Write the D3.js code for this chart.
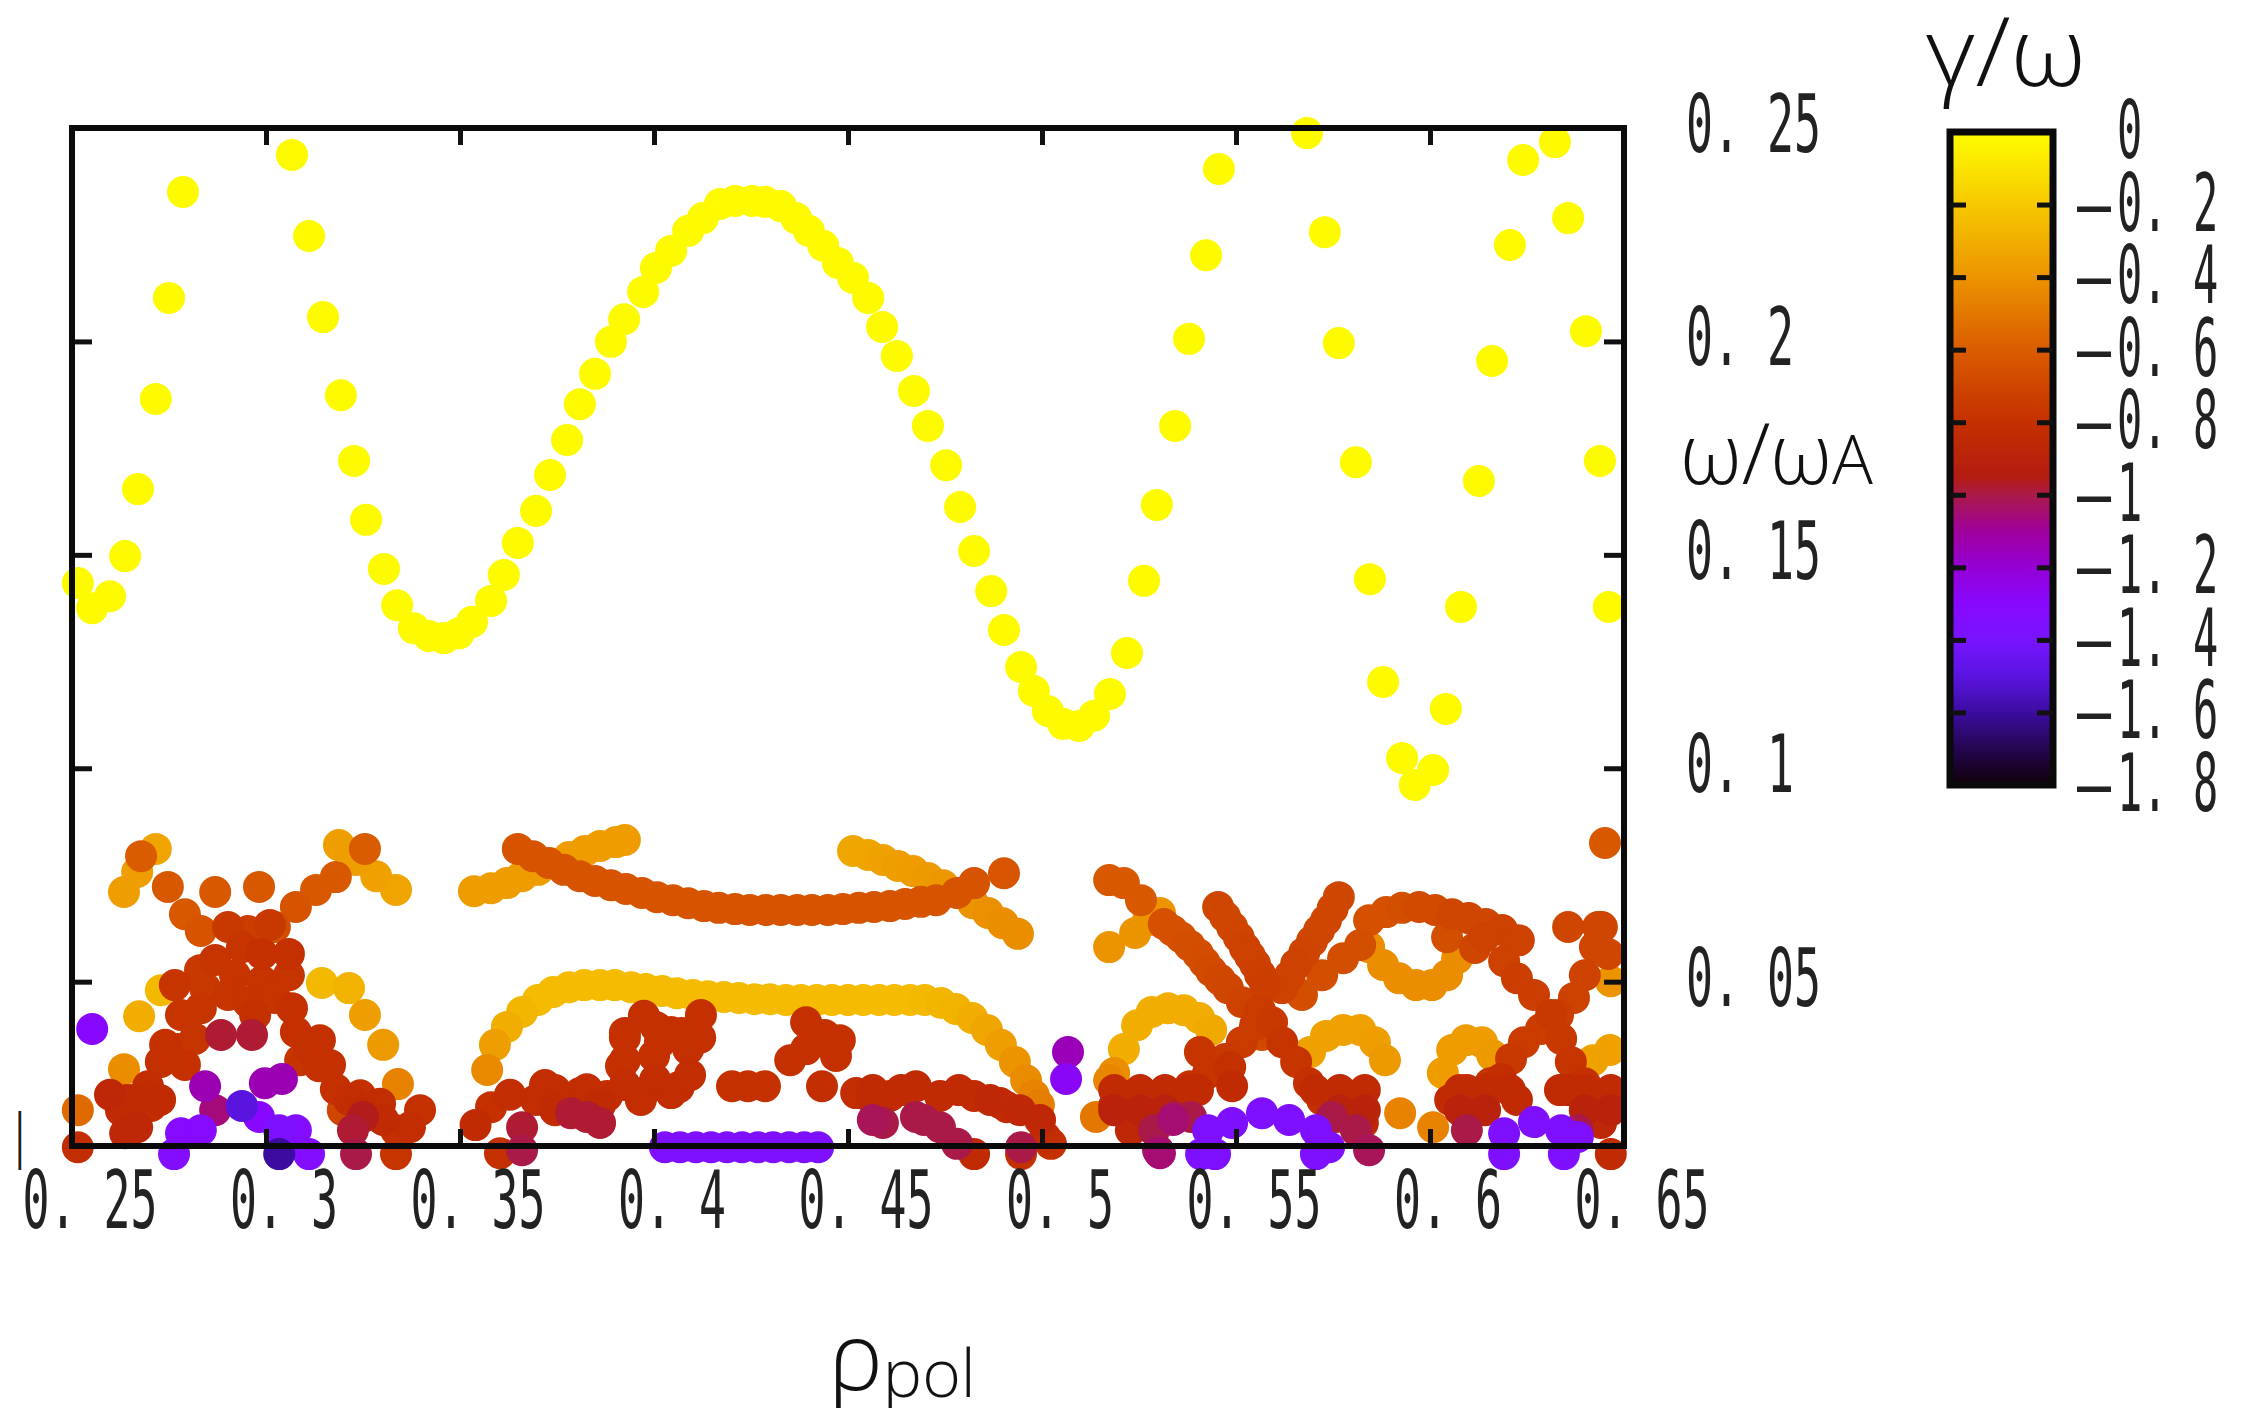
<!DOCTYPE html>
<html>
<head>
<meta charset="utf-8">
<script src="https://cdn.jsdelivr.net/npm/d3@7"></script>
<style>
  body { margin: 0; background: #fff; }
  svg { display: block; }
  text { white-space: pre; }
</style>
</head>
<body>
<div id="chart-area"></div>
<script>
// axis ticks and labels
var xTicks = [0.25, 0.3, 0.35, 0.4, 0.45, 0.5, 0.55, 0.6, 0.65];
var xTickLabels = ["0. 25", "0. 3", "0. 35", "0. 4", "0. 45", "0. 5", "0. 55", "0. 6", "0. 65"];
var yTicks = [0.05, 0.1, 0.15, 0.2, 0.25];
var yTickLabels = ["0. 05", "0. 1", "0. 15", "0. 2", "0. 25"];
var cbTicks = [0, -0.2, -0.4, -0.6, -0.8, -1, -1.2, -1.4, -1.6, -1.8];
var cbTickLabels = ["0", "0. 2", "0. 4", "0. 6", "0. 8", "1", "1. 2", "1. 4", "1. 6", "1. 8"];

// colour bar (gamma/omega -> colour)
var cbStops = [0, -0.2, -0.4, -0.6, -0.8, -0.95, -1.0, -1.1, -1.2, -1.3, -1.4, -1.5, -1.6, -1.7, -1.8];
var cbColors = ["#ffff00", "#f6c800", "#ec9400", "#da5c00", "#c43000", "#b41c10", "#aa1a48", "#a0009c",
                "#9400d4", "#8808ff", "#7814ff", "#5a14e0", "#3c0ca0", "#240650", "#100008"];

// yellow (weakly damped) branches [rho, omega]
var yellowGamma = -0.02;
var yellowA = [[0.2515,0.1434],[0.2552,0.1375],[0.2598,0.1403],[0.2637,0.1497],[0.2670,0.1654],
  [0.2716,0.1865],[0.2750,0.2102],[0.2786,0.2350]];
var yellowB = [[0.3067,0.2437],[0.3111,0.2247],[0.3147,0.2057],[0.3193,0.1874],[0.3227,0.1720],
  [0.3258,0.1582],[0.3304,0.1467],[0.3338,0.1382],[0.3381,0.1328],[0.3420,0.1310],[0.3459,0.1305],
  [0.3497,0.1316],[0.3531,0.1343],[0.3580,0.1392],[0.3613,0.1453],[0.3649,0.1528],[0.3696,0.1603],
  [0.3732,0.1687],[0.3776,0.1769],[0.3809,0.1853],[0.3848,0.1924],[0.3889,0.1999],[0.3923,0.2052],
  [0.3972,0.2116],[0.4005,0.2172],[0.4044,0.2212],[0.4088,0.2259],[0.4126,0.2289],[0.4170,0.2322],
  [0.4209,0.2329],[0.4253,0.2329],[0.4286,0.2327],[0.4327,0.2317],[0.4366,0.2289],[0.4399,0.2259],
  [0.4436,0.2224],[0.4474,0.2184],[0.4513,0.2149],[0.4552,0.2102],[0.4588,0.2034],[0.4626,0.1966],
  [0.4670,0.1884],[0.4706,0.1802],[0.4753,0.1710],[0.4789,0.1612],[0.4825,0.1509],[0.4869,0.1415],
  [0.4902,0.1324],[0.4946,0.1237],[0.4979,0.1181],[0.5015,0.1134],[0.5054,0.1104],[0.5095,0.1099],
  [0.5134,0.1123],[0.5175,0.1174],[0.5219,0.1270],[0.5263,0.1439],[0.5296,0.1617],[0.5343,0.1802],
  [0.5379,0.2006],[0.5423,0.2202],[0.5456,0.2404]];
var yellowC = [[0.5683,0.2488],[0.5729,0.2256],[0.5765,0.1996],[0.5809,0.1717],[0.5845,0.1443],
  [0.5879,0.1202],[0.5928,0.1024],[0.5961,0.0961],[0.6008,0.0996]];
var yellowD = [[0.6041,0.1139],[0.6080,0.1378],[0.6126,0.1673],[0.6160,0.1954],[0.6206,0.2226],
  [0.6240,0.2425]];
var yellowE = [[0.6322,0.2467],[0.6356,0.2289],[0.6402,0.2024],[0.6438,0.1720],[0.6461,0.1378]];

// low frequency, damped modes [rho, omega, gamma/omega]
var lowLeft = [
  [0.2634,0.0710,-0.36],[0.2668,0.0757,-0.36],[0.2716,0.0811,-0.34],
  [0.2678,0.0794,-0.6],[0.2747,0.0722,-0.62],[0.2791,0.0658,-0.62],[0.2832,0.0619,-0.64],
  [0.2869,0.0710,-0.62],[0.2982,0.0722,-0.62],
  [0.3023,0.0628,-0.66],[0.3077,0.0675,-0.64],[0.3129,0.0715,-0.62],[0.3180,0.0745,-0.62],[0.3255,0.0811,-0.6],
  [0.3188,0.0820,-0.36],[0.3232,0.0785,-0.36],[0.3284,0.0747,-0.35],[0.3335,0.0715,-0.34],
  [0.2902,0.0628,-0.76],[0.2954,0.0619,-0.74],[0.2938,0.0581,-0.78],[0.2990,0.0565,-0.8],[0.3059,0.0565,-0.8],
  [0.2920,0.0515,-0.78],[0.2990,0.0501,-0.78],[0.3059,0.0515,-0.78],[0.2843,0.0485,-0.76],[0.2902,0.0469,-0.78],
  [0.2954,0.0452,-0.78],[0.3023,0.0462,-0.78],[0.3067,0.0438,-0.8],[0.2781,0.0422,-0.78],[0.2832,0.0438,-0.78],
  [0.3077,0.0382,-0.8],[0.3111,0.0342,-0.8],[0.3137,0.0302,-0.8],[0.3180,0.0248,-0.8],[0.3214,0.0223,-0.82],
  [0.3250,0.0192,-0.84],[0.3302,0.0176,-0.84],[0.3371,0.0159,-0.82],[0.2817,0.0366,-0.78],[0.2773,0.0342,-0.78],
  [0.2729,0.0312,-0.8],[0.2696,0.0255,-0.82],[0.2642,0.0223,-0.84],[0.2626,0.0199,-0.84],[0.2704,0.0209,-0.82],
  [0.2668,0.0159,-0.86],[0.2637,0.0145,-0.86],[0.2660,0.0223,-0.84],[0.2515,0.0112,-0.82],[0.3335,0.0096,-0.78],
  [0.3335,0.0152,-0.8],[0.3198,0.0199,-0.7],[0.2781,0.0326,-0.65],[0.2869,0.0551,-0.78],[0.3010,0.0633,-0.76],
  [0.2972,0.0422,-0.8],[0.2765,0.0492,-0.78],[0.2830,0.0527,-0.76],[0.3139,0.0363,-0.8],[0.3165,0.0305,-0.8],
  [0.3088,0.0316,-0.78],[0.2740,0.0352,-0.8],[0.2791,0.0305,-0.8],[0.2598,0.0235,-0.86],[0.2727,0.0223,-0.84],
  [0.3294,0.0214,-0.82],[0.3397,0.0199,-0.8],[0.3243,0.0234,-0.8],
  [0.2884,0.0375,-0.98],[0.2964,0.0375,-0.98],[0.3232,0.0096,-1.0],[0.3224,0.0152,-0.98],[0.3250,0.0183,-0.96],
  [0.2843,0.0255,-1.14],[0.2997,0.0262,-1.14],[0.3041,0.0272,-1.14],[0.2869,0.0199,-1.06],
  [0.2938,0.0209,-1.5],[0.3034,0.0096,-1.6],
  [0.2552,0.0389,-1.3],[0.2781,0.0145,-1.32],[0.2982,0.0183,-1.3],[0.3077,0.0152,-1.34],[0.2763,0.0096,-1.34],
  [0.3111,0.0096,-1.34],[0.2832,0.0152,-1.32],[0.3034,0.0152,-1.36],
  [0.2729,0.0480,-0.26],[0.2673,0.0419,-0.3],[0.3144,0.0497,-0.26],[0.3214,0.0485,-0.28],
  [0.3255,0.0422,-0.36],[0.3302,0.0352,-0.38],
  [0.3340,0.0260,-0.46],[0.2634,0.0295,-0.42],[0.2515,0.0199,-0.55]
];
var risingArc = [[0.3536,0.0712,-0.37],[0.3580,0.0719,-0.37],[0.3621,0.0731,-0.37],[0.3660,0.0747,-0.37],
  [0.3701,0.0762,-0.37],[0.3740,0.0776,-0.37],[0.3781,0.0792,-0.37],[0.3822,0.0806,-0.37],[0.3861,0.0818,-0.37],
  [0.3902,0.0827,-0.37],[0.3925,0.0832,-0.37]];
var upperBand = [[0.3649,0.0811,-0.64],[0.3688,0.0794,-0.64],[0.3729,0.0778,-0.64],[0.3768,0.0762,-0.64],
  [0.3809,0.0747,-0.64],[0.3848,0.0736,-0.64],[0.3889,0.0726,-0.64],[0.3928,0.0717,-0.64],[0.3969,0.0708,-0.64],
  [0.4008,0.0698,-0.64],[0.4049,0.0691,-0.64],[0.4088,0.0684,-0.64],[0.4129,0.0677,-0.64],[0.4167,0.0673,-0.64],
  [0.4209,0.0670,-0.64],[0.4247,0.0668,-0.64],[0.4289,0.0668,-0.64],[0.4327,0.0668,-0.64],[0.4369,0.0668,-0.64],
  [0.4407,0.0668,-0.64],[0.4448,0.0668,-0.64],[0.4487,0.0670,-0.64],[0.4528,0.0673,-0.64],[0.4567,0.0675,-0.64],
  [0.4608,0.0677,-0.64],[0.4647,0.0682,-0.64],[0.4688,0.0687,-0.64],[0.4727,0.0691,-0.64],[0.4781,0.0708,-0.64],
  [0.4825,0.0731,-0.64],[0.4902,0.0754,-0.63]];
var fallingArc = [[0.4513,0.0806,-0.33],[0.4552,0.0797,-0.34],[0.4590,0.0785,-0.35],[0.4629,0.0771,-0.36],
  [0.4668,0.0759,-0.37],[0.4706,0.0743,-0.38],[0.4745,0.0726,-0.39],[0.4784,0.0708,-0.4],[0.4822,0.0684,-0.4],
  [0.4861,0.0661,-0.41],[0.4899,0.0637,-0.42],[0.4938,0.0612,-0.42]];
var lowerBand = [[0.3570,0.0293,-0.44],[0.3590,0.0352,-0.36],[0.3621,0.0394,-0.3],[0.3660,0.0429,-0.27],
  [0.3701,0.0457,-0.25],[0.3740,0.0476,-0.25],[0.3781,0.0487,-0.25],[0.3820,0.0492,-0.25],[0.3861,0.0492,-0.25],
  [0.3899,0.0492,-0.25],[0.3941,0.0487,-0.25],[0.3979,0.0483,-0.25],[0.4021,0.0478,-0.25],[0.4059,0.0473,-0.25],
  [0.4100,0.0469,-0.25],[0.4139,0.0466,-0.25],[0.4180,0.0464,-0.25],[0.4219,0.0462,-0.25],[0.4260,0.0459,-0.25],
  [0.4299,0.0459,-0.25],[0.4340,0.0457,-0.25],[0.4379,0.0457,-0.25],[0.4420,0.0457,-0.25],[0.4459,0.0457,-0.25],
  [0.4500,0.0457,-0.25],[0.4539,0.0457,-0.25],[0.4580,0.0457,-0.25],[0.4619,0.0457,-0.25],[0.4660,0.0457,-0.25],
  [0.4698,0.0457,-0.26],[0.4740,0.0450,-0.27],[0.4778,0.0436,-0.28],[0.4820,0.0415,-0.3],[0.4858,0.0387,-0.33],
  [0.4894,0.0352,-0.36],[0.4930,0.0312,-0.4],[0.4959,0.0269,-0.43],[0.4979,0.0234,-0.46],[0.4992,0.0211,-0.48]];
var lowMiddle = [
  [0.3925,0.0380,-0.8],[0.4005,0.0394,-0.8],[0.3925,0.0316,-0.8],[0.4064,0.0253,-0.82],[0.3972,0.0239,-0.82],
  [0.3809,0.0239,-0.82],[0.3696,0.0223,-0.82],[0.3580,0.0206,-0.8],[0.3603,0.0098,-0.8],[0.4121,0.0422,-0.8],
  [0.4044,0.0382,-0.8],[0.4088,0.0342,-0.8],[0.4000,0.0326,-0.8],[0.3915,0.0302,-0.8],[0.3879,0.0232,-0.82],
  [0.3966,0.0223,-0.82],[0.4044,0.0239,-0.82],[0.3827,0.0248,-0.82],[0.4242,0.0255,-0.8],[0.4286,0.0255,-0.8],
  [0.4201,0.0255,-0.8],[0.4392,0.0405,-0.8],[0.4392,0.0342,-0.8],[0.4469,0.0326,-0.8],[0.4433,0.0255,-0.82],
  [0.4521,0.0239,-0.82],[0.4608,0.0232,-0.84],[0.4675,0.0255,-0.84],[0.4737,0.0232,-0.84],[0.4825,0.0232,-0.84],
  [0.4892,0.0216,-0.84],[0.4825,0.0096,-0.84],[0.4946,0.0096,-0.8],[0.5023,0.0120,-0.8],[0.4072,0.0380,-0.8],
  [0.4564,0.0223,-0.84],[0.4910,0.0206,-0.84],[0.5008,0.0136,-0.82],[0.3745,0.0246,-0.82],
  [0.3974,0.0420,-0.8],[0.3925,0.0369,-0.8],[0.4119,0.0369,-0.8],[0.4015,0.0357,-0.8],
  [0.4351,0.0316,-0.8],[0.4479,0.0363,-0.8],[0.4440,0.0375,-0.8],
  [0.4564,0.0246,-0.84],[0.4637,0.0246,-0.84],[0.4786,0.0246,-0.84],[0.4866,0.0223,-0.86],[0.4943,0.0199,-0.86],
  [0.4995,0.0176,-0.86],[0.3925,0.0258,-0.82],[0.4003,0.0270,-0.82],[0.4093,0.0281,-0.82],
  [0.3629,0.0235,-0.82],[0.3745,0.0199,-0.84],[0.3861,0.0211,-0.84],[0.3540,0.0164,-0.84],[0.3719,0.0258,-0.82],
  [0.3786,0.0192,-0.98],[0.3660,0.0159,-0.98],[0.3660,0.0105,-1.0],[0.4675,0.0183,-1.0],[0.4737,0.0159,-1.0],
  [0.4781,0.0120,-1.0],[0.4946,0.0112,-1.0],[0.4590,0.0169,-1.0],[0.3827,0.0183,-0.98],[0.3861,0.0169,-0.98],
  [0.4564,0.0176,-1.02],[0.4696,0.0176,-1.0],
  [0.4028,0.0112,-1.36],[0.4067,0.0112,-1.36],[0.4108,0.0112,-1.36],[0.4147,0.0112,-1.36],[0.4188,0.0112,-1.36],
  [0.4227,0.0112,-1.36],[0.4268,0.0112,-1.36],[0.4307,0.0112,-1.36],[0.4348,0.0112,-1.36],[0.4387,0.0112,-1.36],
  [0.4423,0.0112,-1.36],
  [0.5067,0.0335,-1.15],[0.5062,0.0272,-1.28]
];
var lowRight = [
  [0.5173,0.0738,-0.62],[0.5211,0.0731,-0.62],[0.5255,0.0691,-0.62],
  [0.5304,0.0661,-0.4],[0.5240,0.0614,-0.4],[0.5173,0.0581,-0.4],[0.5273,0.0644,-0.4],
  [0.5211,0.0342,-0.3],[0.5245,0.0398,-0.3],[0.5283,0.0429,-0.3],[0.5325,0.0438,-0.3],[0.5366,0.0433,-0.3],
  [0.5405,0.0415,-0.3],[0.5436,0.0387,-0.32],
  [0.5173,0.0269,-0.45],[0.5139,0.0183,-0.5],[0.5186,0.0286,-0.42],
  [0.5314,0.0635,-0.65],[0.5358,0.0604,-0.65],[0.5402,0.0565,-0.66],[0.5436,0.0525,-0.68],[0.5479,0.0485,-0.7],
  [0.5515,0.0452,-0.72],[0.5336,0.0620,-0.65],[0.5380,0.0585,-0.66],[0.5419,0.0545,-0.67],[0.5458,0.0505,-0.69],
  [0.5454,0.0675,-0.7],[0.5490,0.0628,-0.7],[0.5523,0.0579,-0.72],[0.5549,0.0541,-0.72],[0.5575,0.0492,-0.74],
  [0.5472,0.0652,-0.7],[0.5507,0.0604,-0.71],[0.5536,0.0560,-0.72],[0.5562,0.0517,-0.73],
  [0.5562,0.0433,-0.75],[0.5593,0.0405,-0.76],
  [0.5619,0.0358,-0.78],[0.5655,0.0312,-0.78],[0.5688,0.0262,-0.8],[0.5722,0.0223,-0.8],[0.5758,0.0183,-0.82],
  [0.5428,0.0286,-0.78],[0.5472,0.0319,-0.76],[0.5515,0.0358,-0.75],[0.5549,0.0398,-0.75],[0.5619,0.0485,-0.72],
  [0.5655,0.0541,-0.72],[0.5696,0.0595,-0.7],[0.5732,0.0644,-0.7],[0.5765,0.0698,-0.7],
  [0.5638,0.0513,-0.72],[0.5676,0.0568,-0.71],[0.5714,0.0620,-0.7],[0.5749,0.0671,-0.7],
  [0.5567,0.0375,-0.68],[0.5670,0.0469,-0.66],[0.5722,0.0515,-0.66],[0.5776,0.0555,-0.66],[0.5820,0.0586,-0.66],
  [0.5407,0.0335,-0.78],[0.5485,0.0300,-0.8],[0.5381,0.0255,-0.8],[0.5330,0.0223,-0.82],
  [0.5843,0.0644,-0.65],[0.5887,0.0663,-0.65],[0.5928,0.0673,-0.66],[0.5972,0.0675,-0.68],[0.6013,0.0668,-0.68],
  [0.6057,0.0658,-0.7],[0.6100,0.0649,-0.7],[0.6144,0.0635,-0.7],[0.6186,0.0621,-0.72],[0.6229,0.0597,-0.72],
  [0.6044,0.0604,-0.66],[0.6116,0.0579,-0.7],
  [0.5843,0.0581,-0.42],[0.5879,0.0539,-0.42],[0.5920,0.0508,-0.42],[0.5964,0.0492,-0.42],[0.6005,0.0492,-0.42],
  [0.6044,0.0515,-0.42],[0.6070,0.0555,-0.42],[0.6466,0.0501,-0.4],
  [0.6139,0.0604,-0.72],[0.6191,0.0548,-0.72],[0.6224,0.0508,-0.74],[0.6268,0.0469,-0.74],[0.6312,0.0422,-0.76],
  [0.6338,0.0366,-0.76],[0.6363,0.0312,-0.78],[0.6399,0.0262,-0.8],
  [0.6155,0.0262,-0.78],[0.6209,0.0319,-0.76],[0.6242,0.0358,-0.75],[0.6286,0.0389,-0.74],[0.6330,0.0422,-0.74],
  [0.6371,0.0462,-0.72],[0.6399,0.0515,-0.72],[0.6425,0.0581,-0.7],[0.6443,0.0628,-0.7],
  [0.6356,0.0628,-0.7],[0.6433,0.0628,-0.7],[0.6459,0.0565,-0.7],[0.6451,0.0825,-0.62],
  [0.5691,0.0335,-0.35],[0.5732,0.0373,-0.35],[0.5776,0.0387,-0.35],[0.5820,0.0387,-0.35],[0.5858,0.0358,-0.36],
  [0.5884,0.0316,-0.38],
  [0.6033,0.0286,-0.37],[0.6057,0.0340,-0.37],[0.6093,0.0363,-0.37],[0.6134,0.0358,-0.37],[0.6160,0.0328,-0.38],
  [0.6420,0.0316,-0.35],[0.6464,0.0340,-0.35],
  [0.5923,0.0192,-0.46],[0.6008,0.0159,-0.46],
  [0.5229,0.0232,-0.84],[0.5314,0.0239,-0.84],[0.5402,0.0246,-0.84],[0.5490,0.0255,-0.84],[0.5791,0.0223,-0.84],
  [0.6095,0.0246,-0.84],[0.6139,0.0223,-0.84],[0.6356,0.0246,-0.84],[0.6441,0.0223,-0.84],[0.6441,0.0169,-0.86],
  [0.6052,0.0223,-0.84],[0.6183,0.0272,-0.82],[0.6224,0.0223,-0.84],[0.5776,0.0192,-0.86],[0.5827,0.0169,-0.86],
  [0.6466,0.0096,-0.84],[0.5186,0.0209,-0.84],[0.5229,0.0152,-0.86],[0.5255,0.0239,-0.84],
  [0.5186,0.0246,-0.84],[0.5253,0.0246,-0.84],[0.5317,0.0246,-0.84],[0.5381,0.0246,-0.84],[0.5704,0.0246,-0.84],
  [0.5768,0.0246,-0.84],[0.5832,0.0246,-0.84],[0.6077,0.0246,-0.84],[0.6142,0.0246,-0.84],[0.6206,0.0246,-0.84],
  [0.6335,0.0246,-0.84],[0.6399,0.0246,-0.84],[0.6466,0.0246,-0.84],
  [0.5186,0.0199,-0.9],[0.5253,0.0199,-0.9],[0.5317,0.0199,-0.9],[0.5768,0.0199,-0.9],[0.5832,0.0199,-0.9],
  [0.6077,0.0199,-0.9],[0.6142,0.0199,-0.9],[0.6399,0.0199,-0.9],[0.6466,0.0199,-0.9],
  [0.5340,0.0183,-1.0],[0.5289,0.0152,-1.0],[0.5747,0.0183,-1.0],[0.5809,0.0152,-1.0],[0.6095,0.0152,-1.0],
  [0.6381,0.0152,-1.0],[0.5299,0.0105,-1.02],[0.5843,0.0105,-1.02],[0.5384,0.0183,-1.0],
  [0.5338,0.0176,-1.05],[0.5304,0.0098,-1.05],
  [0.5428,0.0152,-1.36],[0.5490,0.0169,-1.36],[0.5567,0.0192,-1.36],[0.5637,0.0176,-1.36],[0.5706,0.0152,-1.36],
  [0.5410,0.0096,-1.36],[0.5446,0.0096,-1.36],[0.5706,0.0096,-1.36],[0.5740,0.0112,-1.36],
  [0.6191,0.0145,-1.36],[0.6268,0.0171,-1.36],[0.6338,0.0152,-1.36],[0.6381,0.0136,-1.36],[0.6191,0.0096,-1.36],
  [0.6345,0.0096,-1.36]
];

var svg = d3.select("#chart-area").append("svg")
    .attr("width", 2250)
    .attr("height", 1408);

var x = d3.scaleLinear().domain([0.25, 0.65]).range([72, 1624]);
var y = d3.scaleLinear().domain([0.0115, 0.25]).range([1146, 128]);
var cbY = d3.scaleLinear().domain([0, -1.8]).range([132, 785]);
var color = d3.scaleLinear().domain(cbStops).range(cbColors).clamp(true);

// all points, drawn from weakly to strongly damped
var points = [];
[yellowA, yellowB, yellowC, yellowD, yellowE].forEach(function(s) {
    s.forEach(function(d) { points.push([d[0], d[1], yellowGamma]); });
});
[lowLeft, risingArc, upperBand, fallingArc, lowerBand, lowMiddle, lowRight].forEach(function(s) {
    s.forEach(function(d) { points.push(d); });
});
points.sort(function(a, b) { return b[2] - a[2]; });

svg.append("g").selectAll("circle")
    .data(points)
    .enter()
    .append("circle")
        .attr("cx", function(d) { return x(d[0]); })
        .attr("cy", function(d) { return y(d[1]); })
        .attr("r", 16)
        .attr("fill", function(d) { return color(d[2]); });

// frame and inward ticks on all sides
function styleAxis(g) {
    g.select(".domain").remove();
    g.selectAll("line").attr("stroke", "#111").attr("stroke-width", 5);
}
svg.append("g").attr("transform", "translate(0,1146)")
    .call(d3.axisBottom(x).tickValues(xTicks).tickSizeInner(-17).tickSizeOuter(0).tickFormat(""))
    .call(styleAxis);
svg.append("g").attr("transform", "translate(0,128)")
    .call(d3.axisTop(x).tickValues(xTicks).tickSizeInner(-17).tickSizeOuter(0).tickFormat(""))
    .call(styleAxis);
svg.append("g").attr("transform", "translate(72,0)")
    .call(d3.axisLeft(y).tickValues(yTicks).tickSizeInner(-20).tickSizeOuter(0).tickFormat(""))
    .call(styleAxis);
svg.append("g").attr("transform", "translate(1624,0)")
    .call(d3.axisRight(y).tickValues(yTicks).tickSizeInner(-20).tickSizeOuter(0).tickFormat(""))
    .call(styleAxis);

svg.append("rect")
    .attr("x", 72).attr("y", 128)
    .attr("width", 1552).attr("height", 1018)
    .attr("fill", "none").attr("stroke", "#0a0a0a").attr("stroke-width", 6);

// narrow gothic-like label text: squeeze a mono font sideways
var monoSize = 80, monoAdv = 0.602 * monoSize;
function mono(g, str, x0, yb, pitch) {
    return g.append("text")
        .attr("transform", "translate(" + x0 + "," + yb + ") scale(" + (pitch / monoAdv) + ",1)")
        .attr("font-family", "DejaVu Sans Mono")
        .attr("font-size", monoSize)
        .attr("fill", "#222")
        .text(str);
}

var pitch = 27;
var xLab = svg.append("g");
xTicks.forEach(function(d, i) {
    mono(xLab, xTickLabels[i], x(d) + 18 - xTickLabels[i].length * pitch / 2, 1228, pitch);
});
var yLab = svg.append("g");
yTicks.forEach(function(d, i) {
    mono(yLab, yTickLabels[i], 1686, y(d) + 24, pitch);
});
// stray glyph left of the origin in the original
mono(svg.append("g"), "|", 10, 1156, 27).attr("font-size", 58);

// colour bar
var defs = svg.append("defs");
var grad = defs.append("linearGradient")
    .attr("id", "cbGrad")
    .attr("x1", 0).attr("y1", 0).attr("x2", 0).attr("y2", 1);
grad.selectAll("stop")
    .data(cbStops)
    .enter()
    .append("stop")
        .attr("offset", function(d) { return (d / -1.8); })
        .attr("stop-color", function(d, i) { return cbColors[i]; });

svg.append("rect")
    .attr("x", 1950).attr("y", cbY(0))
    .attr("width", 103).attr("height", cbY(-1.8) - cbY(0))
    .attr("fill", "url(#cbGrad)")
    .attr("stroke", "#0a0a0a").attr("stroke-width", 7);

var cbInner = cbTicks.slice(1, cbTicks.length - 1);
svg.append("g").attr("transform", "translate(1950,0)")
    .call(d3.axisRight(cbY).tickValues(cbInner).tickSizeInner(16).tickSizeOuter(0).tickFormat(""))
    .call(styleAxis);
svg.append("g").attr("transform", "translate(2053,0)")
    .call(d3.axisLeft(cbY).tickValues(cbInner).tickSizeInner(16).tickSizeOuter(0).tickFormat(""))
    .call(styleAxis);

var cbLab = svg.append("g");
cbTicks.forEach(function(d, i) {
    mono(cbLab, cbTickLabels[i], 2117, cbY(d) + 26, 25.3);
    if (d < 0) mono(cbLab, "\u2014", 2077, cbY(d) + 26, 34);
});

// axis titles
var titleFont = "'Open Sans', 'Noto Sans', Lato, sans-serif";
svg.append("text")
    .attr("x", 1926).attr("y", 86)
    .attr("font-family", titleFont).attr("font-weight", 300)
    .attr("font-size", 96).attr("fill", "#111")
    .attr("textLength", 160).attr("lengthAdjust", "spacingAndGlyphs")
    .text("\u03B3/\u03C9");

var yl = svg.append("text")
    .attr("x", 1680).attr("y", 484)
    .attr("font-family", titleFont).attr("font-weight", 300)
    .attr("font-size", 84).attr("fill", "#111");
yl.append("tspan").text("\u03C9/\u03C9");
yl.append("tspan").attr("font-size", 68).text("A");

var xl = svg.append("text")
    .attr("x", 828).attr("y", 1390)
    .attr("font-family", titleFont).attr("font-weight", 300)
    .attr("font-size", 94).attr("fill", "#111");
xl.append("tspan").text("\u03C1");
xl.append("tspan").attr("font-size", 66).attr("dy", 7).text("pol");
</script>
</body>
</html>
